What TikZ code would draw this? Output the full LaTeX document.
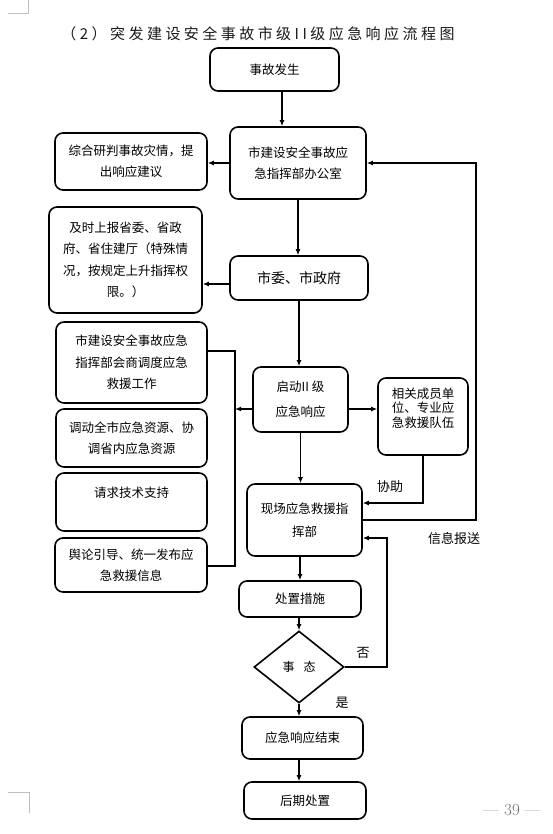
\documentclass[tikz,border=0pt]{standalone}
\usepackage{fontspec}
\usetikzlibrary{shapes.geometric,arrows.meta,calc}
\newfontfamily\cjk{Noto Sans CJK SC}
\newfontfamily\cjktitle[LetterSpace=23]{Noto Sans CJK SC}
\tikzset{
  box/.style={draw, rounded corners=8pt, line width=1.6pt, inner sep=0pt, align=center,
    font=\cjk\fontsize{12.5}{21.5}\selectfont},
  txt/.style={inner sep=0pt, align=center, font=\cjk\fontsize{12.5}{21.5}\selectfont},
  arr/.style={line width=1.5pt, -{Latex[length=6pt,width=5pt]}},
  ln/.style={line width=1.5pt},
  lbl/.style={inner sep=0pt, font=\cjk\fontsize{13}{15}\selectfont},
  corner/.style={draw=black!25, line width=0.8pt},
}
\begin{document}
\begin{tikzpicture}[x=1pt,y=-1pt]
\useasboundingbox (0,0) rectangle (553,834);
% page corner marks
\draw[corner] (8,13) -- (28,13) -- (28,0);
\draw[corner] (8,792) -- (29,792) -- (29,813);
% title
\node[inner sep=0pt, text=black!90, font=\cjktitle\fontsize{15}{18}\selectfont] (title) at (258,34) {（2）突发建设安全事故市级II级应急响应流程图};
% page number
\node[inner sep=0pt, text=black!55, font=\fontsize{17}{19}\selectfont] (pg) at (512,810) {— 39 —};

% main column
\node[box, minimum width=129pt, minimum height=43pt] (b1) at (274.5,69.5) {事故发生};
\node[box, minimum width=136pt, minimum height=72pt] (b2) at (298,163) {市建设安全事故应\\急指挥部办公室};
\node[box, minimum width=138pt, minimum height=44pt, font=\cjk\fontsize{14}{16}\selectfont] (m) at (299,278) {市委、市政府};
\node[box, minimum width=95pt, minimum height=65pt, font=\cjk\fontsize{12.5}{25}\selectfont] (q) at (300.5,399.5) {启动II 级\\应急响应};
\node[box, minimum width=115pt, minimum height=72pt, font=\cjk\fontsize{12.5}{23}\selectfont] (x) at (304.5,520) {现场应急救援指\\挥部};
\node[box, minimum width=122pt, minimum height=36pt] (p) at (300,599) {处置措施};
\node[draw, shape=diamond, line width=1.6pt, inner sep=0pt, minimum width=90pt, minimum height=72pt,
  font=\cjk\fontsize{12}{14}\selectfont] (d) at (299,667) {事\hspace{9pt}态};
\node[box, minimum width=121pt, minimum height=42pt] (e) at (302.5,738) {应急响应结束};
\node[box, minimum width=122pt, minimum height=37pt] (f) at (305,800.5) {后期处置};

% left column
\node[box, minimum width=152pt, minimum height=57pt] (z) at (131,161.5) {综合研判事故灾情，提\\出响应建议};
\node[box, minimum width=153pt, minimum height=106pt] (j) at (125.5,260) {及时上报省委、省政\\府、省住建厅（特殊情\\况，按规定上升指挥权\\限。）};
\node[box, minimum width=151pt, minimum height=81pt] (ba) at (131.5,362.5) {市建设安全事故应急\\指挥部会商调度应急\\救援工作};
\node[box, minimum width=151pt, minimum height=58pt] (bb) at (131.5,438) {调动全市应急资源、协\\调省内应急资源};
\node[box, minimum width=151pt, minimum height=58pt] (bc) at (131.5,502) {};
\node[txt] (bct) at (131.5,493) {请求技术支持};
\node[box, minimum width=152pt, minimum height=54pt] (bd) at (131,565) {舆论引导、统一发布应\\急救援信息};

% right box
\node[box, minimum width=90pt, minimum height=77pt] (r) at (423,416.5) {};
\node[txt, font=\cjk\fontsize{12.5}{14.5}\selectfont] (rt) at (423,408) {相关成员单\\位、专业应\\急救援队伍};

% helper coordinates
\coordinate (br) at (235,351);
\coordinate (bl) at (235,566);
\coordinate (ir) at (476,0);
\coordinate (nr) at (387,0);

% vertical flow
\draw[arr] (b1.south -| 282,0) -- (b2.north -| 282,0);
\draw[arr] (b2.south) -- (b2.south |- m.north);
\draw[arr] (m.south) -- (m.south |- q.north);
\draw[arr] (q.south) -- (q.south |- x.north);
\draw[arr] (x.south -| p.north) -- (p.north);
\draw[arr] (p.south -| d.north) -- (d.north);
\draw[arr] (d.south) -- (d.south |- e.north);
\draw[arr] (e.south -| d.south) -- (f.north -| d.south);

% left arrows
\draw[arr] (b2.west) -- (b2.west -| z.east);
\draw[arr] ([yshift=-6pt]m.west) -- ([yshift=-6pt]m.west -| j.east);
\draw[ln] (ba.east |- br) -- (br) -- (bl) -- (bd.east |- bl);
\draw[arr] ([yshift=-9.5pt]q.west) -- ([yshift=-9.5pt]q.west -| br);

% right arrows
\draw[arr] ([yshift=-9.5pt]q.east) -- ([yshift=-9.5pt]q.east -| r.west);
\draw[arr] (r.south) |- ([yshift=17pt]x.east);
\node[lbl] (l1) at (390,487) {协助};
\draw[arr] (x.east) -- (x.east -| ir) -- (b2.east -| ir) -- (b2.east);
\node[lbl] (l2) at (454,539) {信息报送};
\draw[arr] (d.east) -- (d.east -| nr) -- ([yshift=-18pt]x.east -| nr) -- ([yshift=-18pt]x.east);
\node[lbl] (l3) at (363,653) {否};
\node[lbl] (l4) at (342,703) {是};
\end{tikzpicture}
\end{document}
